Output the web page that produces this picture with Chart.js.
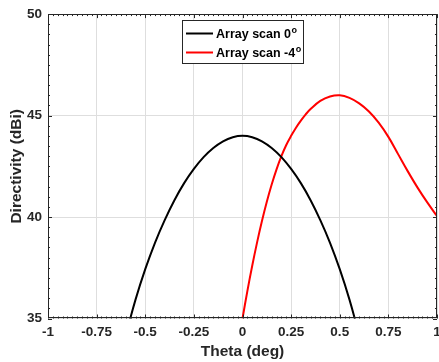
<!DOCTYPE html>
<html>
<head>
<meta charset="utf-8">
<script src="https://cdn.jsdelivr.net/npm/chart.js@4"></script>
<style>
  html, body { margin: 0; padding: 0; background: #fff; overflow: hidden; }
  #wrap { width: 439px; height: 362px; }
</style>
</head>
<body>
<div id="wrap"><canvas id="chart"></canvas></div>
<script>
// Directivity vs theta, two scan angles
const thetaScan0 = [-0.6, -0.55, -0.5, -0.45, -0.4, -0.35, -0.3, -0.25, -0.2, -0.15, -0.1, -0.05, 0,
  0.05, 0.1, 0.15, 0.2, 0.25, 0.3, 0.35, 0.4, 0.45, 0.5, 0.55, 0.6];
const dirScan0 = [34.18, 35.93, 37.43, 38.73, 39.85, 40.83, 41.67, 42.37, 42.95, 43.4, 43.73, 43.93, 44.0,
  43.93, 43.73, 43.4, 42.95, 42.37, 41.67, 40.83, 39.85, 38.73, 37.43, 35.93, 34.18];

const thetaScanM4 = [0, 0.025, 0.05, 0.075, 0.1, 0.125, 0.15, 0.175, 0.2, 0.225, 0.25, 0.275, 0.3, 0.325,
  0.35, 0.4, 0.45, 0.5, 0.55, 0.6, 0.65, 0.7, 0.75, 0.8, 0.85, 0.9, 0.95, 1.0];
const dirScanM4 = [35.0, 36.35, 37.6, 38.75, 39.8, 40.75, 41.6, 42.35, 43.0, 43.55, 44.0, 44.4, 44.75, 45.06,
  45.32, 45.72, 45.94, 46.0, 45.87, 45.6, 45.2, 44.65, 43.95, 43.1, 42.25, 41.45, 40.72, 40.05];

const seriesLabels = ["Array scan 0°", "Array scan -4°"];
const seriesColors = ["#000000", "#ff0000"];

const X_MIN = -1, X_MAX = 1, X_STEP = 0.25;
const Y_MIN = 35, Y_MAX = 50, Y_STEP = 5;

const FONT = "'Liberation Sans', Arial, Helvetica, sans-serif";
const AXIS_COLOR = "#262626";

function toPoints(xs, ys) {
  return xs.map((x, i) => ({ x: x, y: ys[i] }));
}

/** Box around the plot with inward major/minor ticks on all sides (MATLAB style) */
const boxTicks = {
  id: "boxTicks",
  afterDatasetsDraw(chart) {
    const { ctx, chartArea: a, scales } = chart;
    const xs = scales.x, ys = scales.y;
    ctx.save();
    ctx.strokeStyle = AXIS_COLOR;
    ctx.lineWidth = 1;
    ctx.beginPath();
    // x ticks: minor every 0.025
    for (let i = 0; i <= 80; i++) {
      const v = X_MIN + i * 0.025;
      const px = Math.round(xs.getPixelForValue(v)) + 0.5;
      const len = i % 10 === 0 ? 4 : 2;
      ctx.moveTo(px, a.bottom); ctx.lineTo(px, a.bottom - len);
      ctx.moveTo(px, a.top); ctx.lineTo(px, a.top + len);
    }
    // y ticks: minor every 0.5
    for (let i = 0; i <= 30; i++) {
      const v = Y_MIN + i * 0.5;
      const py = Math.round(ys.getPixelForValue(v)) + 0.5;
      const len = i % 10 === 0 ? 4 : 2;
      ctx.moveTo(a.left, py); ctx.lineTo(a.left + len, py);
      ctx.moveTo(a.right, py); ctx.lineTo(a.right - len, py);
    }
    ctx.stroke();
    ctx.strokeRect(Math.round(a.left) + 0.5, Math.round(a.top) + 0.5,
      Math.round(a.right - a.left) - 1, Math.round(a.bottom - a.top) - 1);
    ctx.restore();
  }
};

/** Legend box inside the plot, top middle */
const boxLegend = {
  id: "boxLegend",
  afterDraw(chart) {
    const { ctx } = chart;
    const bx = 182, by = 20, bw = 121, bh = 43;
    ctx.save();
    ctx.fillStyle = "#fff";
    ctx.fillRect(bx, by, bw, bh);
    ctx.strokeStyle = AXIS_COLOR;
    ctx.lineWidth = 1;
    ctx.strokeRect(bx + 0.5, by + 0.5, bw, bh);
    chart.data.datasets.forEach((ds, i) => {
      const yy = by + 13.5 + i * 19;
      ctx.strokeStyle = ds.borderColor;
      ctx.lineWidth = 2;
      ctx.beginPath();
      ctx.moveTo(186, yy);
      ctx.lineTo(213, yy);
      ctx.stroke();
      ctx.fillStyle = "#000";
      ctx.textBaseline = "middle";
      ctx.textAlign = "left";
      ctx.font = "bold 12.5px " + FONT;
      const txt = ds.label.replace("°", "");
      ctx.fillText(txt, 216, yy + 1);
      if (ds.label.endsWith("°")) {
        const w = ctx.measureText(txt).width;
        ctx.font = "bold 9px " + FONT;
        ctx.fillText("o", 216 + w + 0.5, yy - 3);
      }
    });
    ctx.restore();
  }
};

new Chart(document.getElementById("chart"), {
  type: "line",
  data: {
    datasets: [
      {
        label: seriesLabels[0],
        data: toPoints(thetaScan0, dirScan0),
        borderColor: seriesColors[0],
        borderWidth: 2,
        pointRadius: 0,
        tension: 0.4,
        fill: false
      },
      {
        label: seriesLabels[1],
        data: toPoints(thetaScanM4, dirScanM4),
        borderColor: seriesColors[1],
        borderWidth: 2,
        pointRadius: 0,
        tension: 0.4,
        fill: false
      }
    ]
  },
  options: {
    responsive: true,
    maintainAspectRatio: false,
    animation: false,
    layout: { padding: { top: 12, right: 2, bottom: 0, left: 0 } },
    plugins: {
      legend: { display: false },
      tooltip: { enabled: false }
    },
    scales: {
      x: {
        type: "linear",
        min: X_MIN,
        max: X_MAX,
        afterFit(scale) {
          scale.height = 43.5;
          scale.paddingRight = 0;
        },
        ticks: {
          stepSize: X_STEP,
          padding: 6,
          color: AXIS_COLOR,
          font: { family: FONT, weight: "bold", size: 13.5 },
          maxRotation: 0,
          autoSkip: false,
          callback: (v) => String(Math.round(v * 100) / 100)
        },
        grid: { color: "#dedede", lineWidth: 1, drawTicks: false },
        border: { display: false },
        title: {
          display: true,
          text: "Theta (deg)",
          color: AXIS_COLOR,
          font: { family: FONT, weight: "bold", size: 15.5 },
          padding: { top: 0, bottom: 1 }
        }
      },
      y: {
        min: Y_MIN,
        max: Y_MAX,
        afterFit(scale) {
          scale.width = 48;
        },
        ticks: {
          stepSize: Y_STEP,
          padding: 6,
          color: AXIS_COLOR,
          font: { family: FONT, weight: "bold", size: 13.5 }
        },
        grid: { color: "#dedede", lineWidth: 1, drawTicks: false },
        border: { display: false },
        title: {
          display: true,
          text: "Directivity (dBi)",
          color: AXIS_COLOR,
          font: { family: FONT, weight: "bold", size: 15.5 },
          padding: { top: 7, bottom: 0 }
        }
      }
    }
  },
  plugins: [boxTicks, boxLegend]
});
</script>
</body>
</html>
